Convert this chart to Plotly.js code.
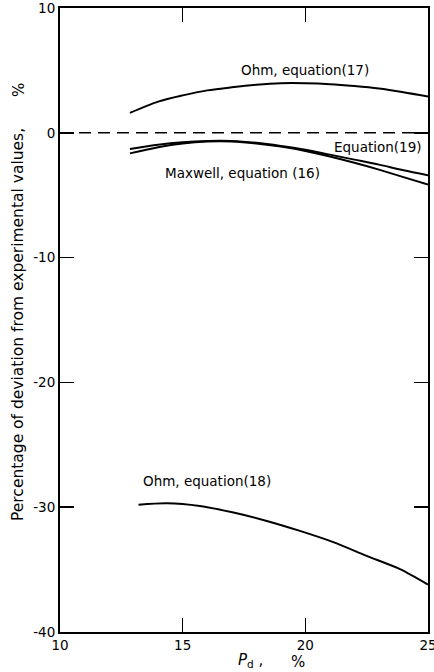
<!DOCTYPE html>
<html>
<head>
<meta charset="utf-8">
<script src="https://cdn.plot.ly/plotly-3.0.1.min.js"></script>
<style>html,body{margin:0;padding:0;background:#fff;}#chart{width:434px;height:672px;}</style>
</head>
<body>
<div id="chart"></div>
<script>
// Ohm, equation (17)
const ohm17X = [12.85, 14, 15, 16, 17, 18, 19, 20, 21, 22, 23, 24, 25];
const ohm17Y = [1.6, 2.5, 3.0, 3.4, 3.65, 3.85, 3.97, 3.97, 3.9, 3.75, 3.55, 3.25, 2.9];
// Equation (19)
const eq19X = [12.85, 14, 15, 16, 17, 18, 19, 20, 21, 22, 23, 24, 25];
const eq19Y = [-1.3, -0.95, -0.75, -0.65, -0.65, -0.8, -1.05, -1.35, -1.75, -2.15, -2.55, -3.0, -3.4];
// Maxwell, equation (16)
const maxX = [12.85, 14, 15, 16, 17, 18, 19, 20, 21, 22, 23, 24, 25];
const maxY = [-1.65, -1.15, -0.85, -0.7, -0.7, -0.85, -1.1, -1.45, -1.9, -2.4, -2.95, -3.55, -4.15];
// Ohm, equation (18)
const ohm18X = [13.2, 14.35, 15.7, 17.07, 18.43, 19.78, 21.14, 22.5, 23.86, 25];
const ohm18Y = [-29.8, -29.68, -29.9, -30.43, -31.1, -31.9, -32.8, -33.9, -34.96, -36.2];

const xTicks = [10, 15, 20, 25];
const yTicks = [10, 0, -10, -20, -30, -40];

const FONT = 'DejaVu Sans, sans-serif';
const lineStyle = {color: '#000', width: 2, shape: 'spline', smoothing: 0.8};

const traces = [
  {x: ohm17X, y: ohm17Y, mode: 'lines', line: lineStyle, name: 'Ohm, equation(17)'},
  {x: eq19X, y: eq19Y, mode: 'lines', line: lineStyle, name: 'Equation(19)'},
  {x: maxX, y: maxY, mode: 'lines', line: lineStyle, name: 'Maxwell, equation (16)'},
  {x: ohm18X, y: ohm18Y, mode: 'lines', line: lineStyle, name: 'Ohm, equation(18)'}
];

const axisCommon = {
  showgrid: false, zeroline: false, showline: true, linecolor: '#000', linewidth: 2,
  mirror: 'allticks', ticks: 'inside', ticklen: 14, tickwidth: 1.5, tickcolor: '#000',
  ticklabeloverflow: 'allow',
  tickfont: {family: FONT, size: 13.5, color: '#000'}
};

const layout = {
  width: 434, height: 672,
  margin: {l: 60, r: 6, t: 8, b: 40},
  paper_bgcolor: '#fff', plot_bgcolor: '#fff',
  showlegend: false,
  xaxis: Object.assign({}, axisCommon, {range: [10, 25], tickvals: xTicks, ticktext: xTicks.map(String), ticklabelstandoff: 0}),
  yaxis: Object.assign({}, axisCommon, {range: [-40, 10], tickvals: yTicks, ticktext: yTicks.map(String), ticklabelstandoff: 0}),
  shapes: [
    {type: 'line', xref: 'paper', yref: 'y', x0: 0, x1: 1, y0: 0, y1: 0,
     line: {color: '#000', width: 1.5, dash: '12px,7px'}}
  ],
  annotations: [
    {text: 'Ohm, equation(17)', x: 20.0, y: 5.0, xref: 'x', yref: 'y', showarrow: false,
     font: {family: FONT, size: 13.5, color: '#000'}},
    {text: 'Equation(19)', x: 24.85, y: -1.1, xref: 'x', yref: 'y', xanchor: 'right', showarrow: false,
     font: {family: FONT, size: 13.5, color: '#000'}},
    {text: 'Maxwell, equation (16)', x: 17.45, y: -3.2, xref: 'x', yref: 'y', showarrow: false,
     font: {family: FONT, size: 13.5, color: '#000'}},
    {text: 'Ohm, equation(18)', x: 16.0, y: -27.9, xref: 'x', yref: 'y', showarrow: false,
     font: {family: FONT, size: 13.5, color: '#000'}},
    {text: 'Percentage of deviation from experimental values,', x: 18, y: 325,
     showarrow: false, textangle: -90, font: {family: FONT, size: 15.5, color: '#000'}},
    {text: '<i>P</i><sub>d</sub> ,', x: 250, y: 660, showarrow: false, font: {family: FONT, size: 15, color: '#000'}},
    {text: '%', x: 298, y: 662, showarrow: false, font: {family: FONT, size: 15, color: '#000'}},
    {text: '%', x: 19, y: 90, showarrow: false, textangle: -90, font: {family: FONT, size: 15, color: '#000'}}
  ]
};

// convert pixel-positioned annotations into paper coords, centred
const plotW = 434 - 60 - 6, plotH = 672 - 8 - 40;
layout.annotations.forEach(a => {
  if (a.xref !== 'x') {
    a.xref = 'paper'; a.yref = 'paper';
    a.xanchor = 'center'; a.yanchor = 'middle';
    a.x = (a.x - 60) / plotW;
    a.y = (672 - 40 - a.y) / plotH;
  }
});

Plotly.newPlot('chart', traces, layout, {displayModeBar: false, staticPlot: true});
</script>
</body>
</html>
